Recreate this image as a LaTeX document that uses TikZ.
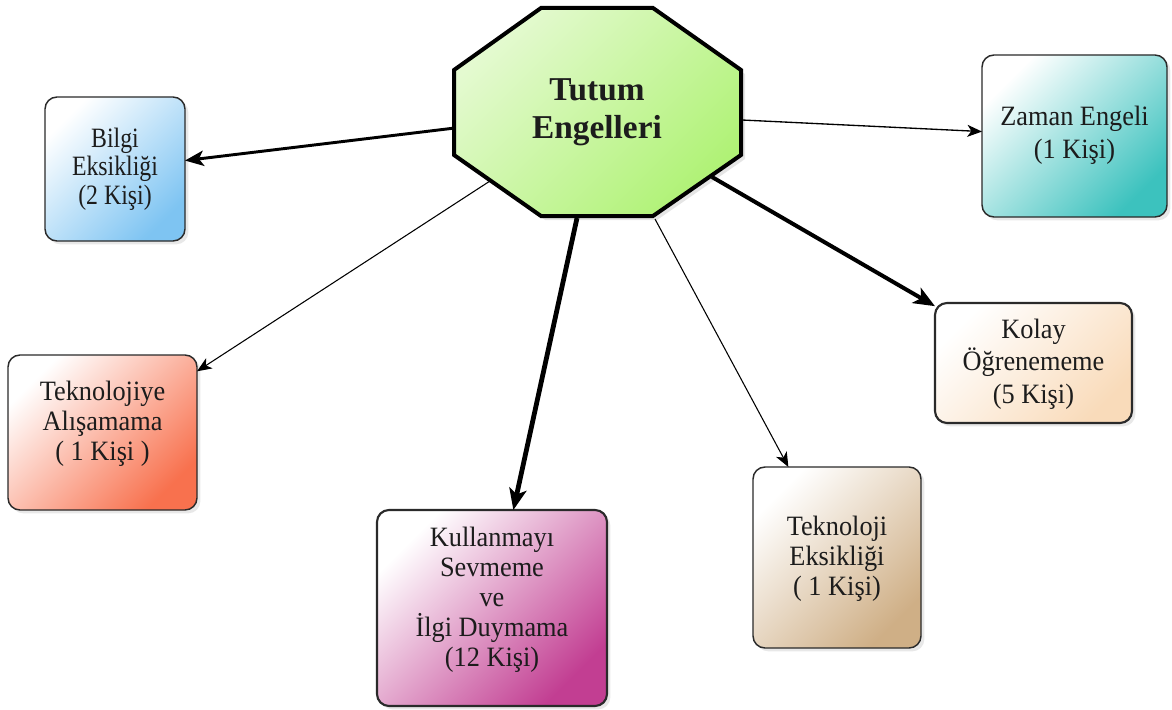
\documentclass[tikz,border=0pt]{standalone}
\usepackage{fontspec}
\setmainfont{Liberation Serif}
\newfontfamily\narrowserif[FakeStretch=0.85]{Liberation Serif}
\newfontfamily\boxserif[FakeStretch=0.94]{Liberation Serif}
\usetikzlibrary{arrows.meta,shadows}
\definecolor{boxline}{HTML}{2A2A2A}
\definecolor{textc}{HTML}{1C1C1C}
\definecolor{cblue}{HTML}{7EC4F2}
\definecolor{cred}{HTML}{F8714E}
\definecolor{cmag}{HTML}{C23E92}
\definecolor{ctan}{HTML}{CFAF86}
\definecolor{cpeach}{HTML}{F9DBBA}
\definecolor{cteal}{HTML}{3CC2BE}
\definecolor{cgreen}{HTML}{B0F276}
\definecolor{cgreenlt}{HTML}{E4FAD0}
\begin{document}
\begin{tikzpicture}[x=0.75pt,y=-0.75pt,
  box/.style={draw=boxline, line width=1.1pt, rounded corners=9pt, inner sep=0pt, outer sep=0pt,
    drop shadow={opacity=0.18, shadow xshift=2.5pt, shadow yshift=-2.5pt}},
  lbl/.style={align=center, font=\boxserif\fontsize{21}{22.5}\selectfont, text=textc, inner sep=0pt},
  conn/.style={draw=black, line cap=butt},
  bigtip/.style={-{Stealth[length=16pt, width=13pt, inset=4pt]}},
  midtip/.style={-{Stealth[length=14pt, width=11.5pt, inset=3.5pt]}},
  smalltip/.style={-{Stealth[length=11pt, width=9pt, inset=3pt]}}
]
\useasboundingbox (0,0) rectangle (1172,710);
\fill[white] (0,0) rectangle (1172,710);

% boxes
\node[box, minimum width=105pt, minimum height=108pt, top color=white, bottom color=cblue, shading angle=45] (bilgi) at (115,169) {};
\node[box, minimum width=141.75pt, minimum height=116.25pt, top color=white, bottom color=cred, shading angle=45] (tekal) at (102.5,432.5) {};
\node[box, line width=1.6pt, minimum width=172.5pt, minimum height=147pt, top color=white, bottom color=cmag, shading angle=45] (kull) at (492,608) {};
\node[box, minimum width=126pt, minimum height=135.75pt, top color=white, bottom color=ctan, shading angle=45] (tekek) at (837,557.5) {};
\node[box, line width=1.6pt, minimum width=147.75pt, minimum height=90pt, top color=white, bottom color=cpeach, shading angle=45] (kolay) at (1033.5,363) {};
\node[box, minimum width=138.75pt, minimum height=121.5pt, top color=white, bottom color=cteal, shading angle=45] (zaman) at (1074.5,136) {};

% labels
\node[lbl, font=\narrowserif\fontsize{21}{21.5}\selectfont] (tb) at (115,169) {Bilgi\\Eksikliği\\(2 Kişi)};
\node[lbl] (tta) at (102.5,424) {Teknolojiye\\Alışamama\\( 1 Kişi )};
\node[lbl] (tk) at (492,600) {Kullanmayı\\Sevmeme\\ve\\İlgi Duymama\\(12 Kişi)};
\node[lbl] (tte) at (837,559) {Teknoloji\\Eksikliği\\( 1 Kişi)};
\node[lbl, font=\boxserif\fontsize{21}{24.5}\selectfont] (tko) at (1033.5,364) {Kolay\\Öğrenememe\\(5 Kişi)};
\node[lbl, font=\boxserif\fontsize{21}{24.5}\selectfont] (tz) at (1074.5,135) {Zaman Engeli\\(1 Kişi)};

% octagon
\draw[line width=3pt, draw=black, top color=cgreenlt, bottom color=cgreen, shading angle=45,
  drop shadow={opacity=0.2, shadow xshift=3pt, shadow yshift=-3pt}]
  (541,8) -- (653,8) -- (741,70) -- (741,155) -- (653,216) -- (541,216) -- (454,155) -- (454,70) -- cycle;
\node[align=center, font=\bfseries\fontsize{25}{28.5}\selectfont, text=textc, inner sep=0pt] (title) at (597,112) {Tutum\\Engelleri};

% connector start points on the octagon
\coordinate (oB) at (455,128);
\coordinate (oTA) at (490,181);
\coordinate (oK) at (577,218);
\coordinate (oTE) at (655,219);
\coordinate (oKo) at (712,177);
\coordinate (oZ) at (742,120);

% connectors
\draw[conn, line width=2.2pt, midtip] (oB) -- (bilgi);
\draw[conn, line width=0.8pt, smalltip] (oTA) -- (tekal);
\draw[conn, line width=3.6pt, bigtip] (oK) -- (kull);
\draw[conn, line width=0.8pt, smalltip] (oTE) -- (tekek);
\draw[conn, line width=3pt, bigtip] (oKo) -- (kolay);
\draw[conn, line width=1pt, smalltip] (oZ) -- (zaman);
\end{tikzpicture}
\end{document}
